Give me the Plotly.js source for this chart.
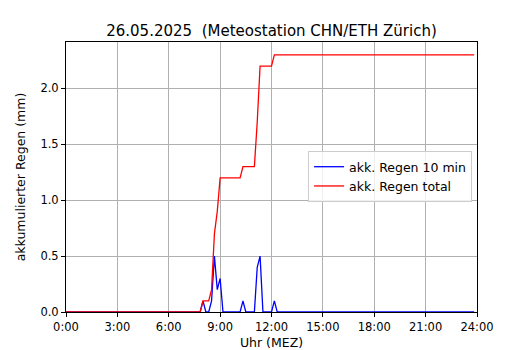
<!DOCTYPE html>
<html>
<head>
<meta charset="utf-8">
<script src="https://cdn.plot.ly/plotly-3.0.1.min.js"></script>
<style>html,body{margin:0;padding:0;background:#fff;}#chart{width:530px;height:350px;}</style>
</head>
<body>
<div id="chart"></div>
<script>
// 10-minute steps starting at 0:00 (hours on the x axis)
const startHour = 0;
const stepHours = 1 / 6;
const rain10min = [
  0,0,0,0,0,0,0,0,0,0,0,0,
  0,0,0,0,0,0,0,0,0,0,0,0,
  0,0,0,0,0,0,0,0,0,0,0,0,
  0,0,0,0,0,0,0,0,0,0,0,0,
  0.1,0,0,0.1,0.5,0.2,0.3,0,0,0,0,0,
  0,0,0.1,0,0,0,0,0.4,0.5,0,0,0,
  0,0.1,0,0,0,0,0,0,0,0,0,0,
  0,0,0,0,0,0,0,0,0,0,0,0,
  0,0,0,0,0,0,0,0,0,0,0,0,
  0,0,0,0,0,0,0,0,0,0,0,0,
  0,0,0,0,0,0,0,0,0,0,0,0,
  0,0,0,0,0,0,0,0,0,0,0,0
];
const rainTotal = [
  0,0,0,0,0,0,0,0,0,0,0,0,
  0,0,0,0,0,0,0,0,0,0,0,0,
  0,0,0,0,0,0,0,0,0,0,0,0,
  0,0,0,0,0,0,0,0,0,0,0,0,
  0.1,0.1,0.1,0.2,0.7,0.9,1.2,1.2,1.2,1.2,1.2,1.2,
  1.2,1.2,1.3,1.3,1.3,1.3,1.3,1.7,2.2,2.2,2.2,2.2,
  2.2,2.3,2.3,2.3,2.3,2.3,2.3,2.3,2.3,2.3,2.3,2.3,
  2.3,2.3,2.3,2.3,2.3,2.3,2.3,2.3,2.3,2.3,2.3,2.3,
  2.3,2.3,2.3,2.3,2.3,2.3,2.3,2.3,2.3,2.3,2.3,2.3,
  2.3,2.3,2.3,2.3,2.3,2.3,2.3,2.3,2.3,2.3,2.3,2.3,
  2.3,2.3,2.3,2.3,2.3,2.3,2.3,2.3,2.3,2.3,2.3,2.3,
  2.3,2.3,2.3,2.3,2.3,2.3,2.3,2.3,2.3,2.3,2.3,2.3
];
const xTickVals = [0, 3, 6, 9, 12, 15, 18, 21, 24];
const xTickText = ["0:00","3:00","6:00","9:00","12:00","15:00","18:00","21:00","24:00"];
const seriesNames = ["akk. Regen 10 min", "akk. Regen total"];

const font = "DejaVu Sans, sans-serif";
const traces = [
  {y: rain10min, x0: startHour, dx: stepHours, type: "scatter", mode: "lines",
   name: seriesNames[0], line: {color: "#0000ff", width: 1.3}},
  {y: rainTotal, x0: startHour, dx: stepHours, type: "scatter", mode: "lines",
   name: seriesNames[1], line: {color: "#ff0000", width: 1.3}}
];
const axisCommon = {
  showline: true, linecolor: "#000", linewidth: 1, mirror: true,
  ticks: "outside", ticklen: 4, tickwidth: 1, tickcolor: "#000",
  showgrid: true, gridcolor: "#b0b0b0", gridwidth: 1,
  zeroline: false, tickfont: {family: font, size: 11.5, color: "#000"}
};
const layout = {
  width: 530, height: 350,
  margin: {l: 66, r: 53, t: 42, b: 38},
  paper_bgcolor: "#fff", plot_bgcolor: "#fff",
  font: {family: font, color: "#000"},
  title: {text: "26.05.2025  (Meteostation CHN/ETH Zürich)", font: {family: font, size: 15, color: "#000"},
          x: 0.5, xref: "paper", xanchor: "center", y: 1, yref: "paper", yanchor: "bottom", pad: {b: 6}},
  xaxis: Object.assign({}, axisCommon, {
    range: [0, 24], tickvals: xTickVals, ticktext: xTickText,
    title: {text: "Uhr (MEZ)", font: {family: font, size: 12.5, color: "#000"}, standoff: 6}
  }),
  yaxis: Object.assign({}, axisCommon, {
    range: [0, 2.415], dtick: 0.5, tick0: 0, tickformat: ".1f",
    title: {text: "akkumulierter Regen (mm)", font: {family: font, size: 12.5, color: "#000"}, standoff: 12}
  }),
  showlegend: true,
  legend: {x: 0.589, y: 0.596, xanchor: "left", yanchor: "top",
           bgcolor: "rgba(255,255,255,0.8)", bordercolor: "#cccccc", borderwidth: 1,
           font: {family: font, size: 12.5, color: "#000"}, tracegroupgap: 0}
};
Plotly.newPlot("chart", traces, layout, {displayModeBar: false, staticPlot: true});
</script>
</body>
</html>
